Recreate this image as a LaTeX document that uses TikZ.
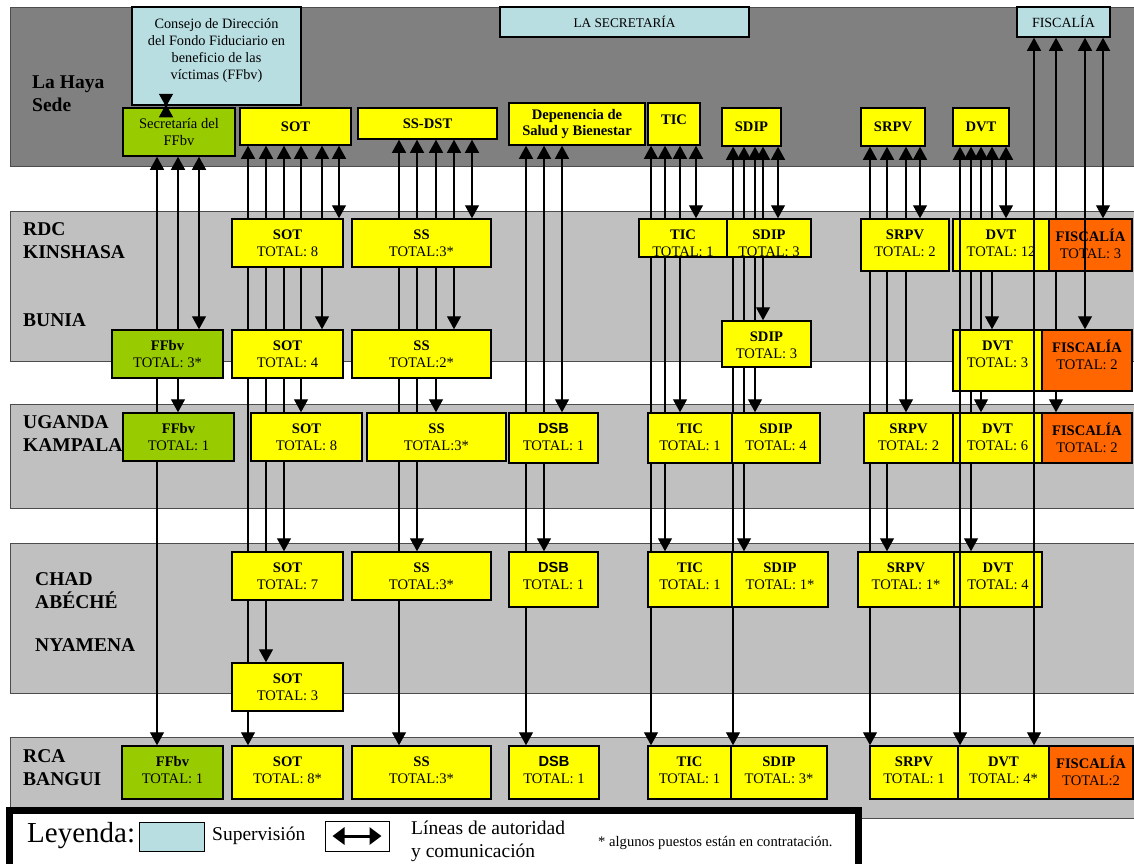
\documentclass[tikz,border=0pt]{standalone}
\usepackage{fontspec}
\setmainfont{Liberation Serif}
\newfontfamily\dsbfont{Liberation Sans}
\usetikzlibrary{positioning, arrows.meta}

\definecolor{hqgray}{HTML}{808080}
\definecolor{fieldgray}{HTML}{C0C0C0}
\definecolor{unityellow}{HTML}{FFFF00}
\definecolor{ffbvgreen}{HTML}{99CC00}
\definecolor{fisorange}{HTML}{FF6600}
\definecolor{supblue}{HTML}{B8DEE2}

\pgfdeclarelayer{bands}
\pgfdeclarelayer{links}
\pgfsetlayers{bands,links,main}

\tikzset{
	band/.style={rectangle, draw=black!70, line width=0.8pt, inner sep=0pt},
	unit/.style={rectangle, draw=black, line width=1.5pt, fill=unityellow, inner sep=0pt},
	hqunit/.style={unit, align=center, font=\bfseries\fontsize{14.6}{16.5}\selectfont},
	supervision/.style={unit, fill=supblue, align=center, font=\fontsize{14}{17}\selectfont},
	unittext/.style={align=center, inner sep=0pt, font=\fontsize{14.6}{17}\selectfont},
	place/.style={anchor=west, align=left, inner sep=0pt, font=\bfseries\fontsize{19.5}{23}\selectfont},
	link/.style={line width=1.3pt, >={Triangle[length=13pt, width=14pt]}, <->},
	keyarrow/.style={line width=3pt, >={Triangle[length=12pt, width=17pt]}, <->},
	legendtext/.style={inner sep=0pt, font=\fontsize{19.5}{23}\selectfont}
}

\begin{document}
\begin{tikzpicture}[x=1pt, y=-1pt]
	\useasboundingbox (0,0) rectangle (1134,863);
	\clip (0,0) rectangle (1134,863);

	\begin{pgfonlayer}{bands}
		\node[band, fill=hqgray, minimum width=1124pt, minimum height=159pt](hagueBand) at (572,86.5){};
		\node[band, fill=fieldgray, minimum width=1124pt, minimum height=150pt](rdcBand) at (572,286){};
		\node[band, fill=fieldgray, minimum width=1124pt, minimum height=104pt](ugandaBand) at (572,456){};
		\node[band, fill=fieldgray, minimum width=1124pt, minimum height=150pt](chadBand) at (572,618){};
		\node[band, fill=fieldgray, minimum width=1124pt, minimum height=81pt](rcaBand) at (572,777.5){};
	\end{pgfonlayer}

	\node[place](hagueLbl) at (32,94){La Haya\\Sede};
	\node[place](rdcLbl) at (23,240.5){RDC\\KINSHASA};
	\node[place](buniaLbl) at (23,320){BUNIA};
	\node[place](ugandaLbl) at (23,434){UGANDA\\KAMPALA};
	\node[place](chadLbl) at (35,591){CHAD\\ABÉCHÉ};
	\node[place](nyamenaLbl) at (35,645){NYAMENA};
	\node[place](rcaLbl) at (23,768){RCA\\BANGUI};

	% La Haya
	\node[supervision, minimum width=169pt, minimum height=98pt](consejo) at (216.5,56){};
	\node[unittext, font=\fontsize{14.3}{17}\selectfont](consejoTxt) at ([yshift=5pt]consejo.center){Consejo de Dirección\\del Fondo Fiduciario en\\beneficio de las\\víctimas (FFbv)};
	\node[supervision, minimum width=249pt, minimum height=30pt, font=\fontsize{13.3}{16}\selectfont](secretaria) at (624.5,22){LA SECRETARÍA};
	\node[supervision, minimum width=93pt, minimum height=30pt](fiscaliaHQ) at (1063.5,22){FISCALÍA};

	\node[hqunit, fill=ffbvgreen, font=\fontsize{14.6}{16.5}\selectfont, minimum width=112pt, minimum height=48pt](secFFbv) at (179,132){Secretaría del\\FFbv};
	\node[hqunit, minimum width=111pt, minimum height=37pt](sotHQ) at (295.5,126.5){SOT};
	\node[hqunit, minimum width=139pt, minimum height=31pt](ssdstHQ) at (427.5,123.5){SS-DST};
	\node[hqunit, minimum width=136pt, minimum height=42pt](dsbHQ) at (577,124){Depenencia de\\Salud y Bienestar};
	\node[hqunit, minimum width=52pt, minimum height=42pt, text depth=8pt](ticHQ) at (674,124){TIC};
	\node[hqunit, minimum width=59pt, minimum height=38pt](sdipHQ) at (751.5,127){SDIP};
	\node[hqunit, minimum width=64pt, minimum height=38pt](srpvHQ) at (893,127){SRPV};
	\node[hqunit, minimum width=56pt, minimum height=38pt](dvtHQ) at (981,127){DVT};

	% RDC Kinshasa
	\node[unit, minimum width=111pt, minimum height=48pt](sotKin) at (287.5,243){};
	\node[unittext, below=11pt of sotKin.north](sotKinTxt){\textbf{SOT}\\TOTAL: 8};
	\node[unit, minimum width=139pt, minimum height=48pt](ssKin) at (421.5,243){};
	\node[unittext, below=11pt of ssKin.north](ssKinTxt){\textbf{SS}\\TOTAL:3*};
	\node[unit, minimum width=88pt, minimum height=38pt](ticKin) at (683,238){};
	\node[unittext, below=11pt of ticKin.north](ticKinTxt){\textbf{TIC}\\TOTAL: 1};
	\node[unit, minimum width=84pt, minimum height=38pt](sdipKin) at (769,238){};
	\node[unittext, below=11pt of sdipKin.north](sdipKinTxt){\textbf{SDIP}\\TOTAL: 3};
	\node[unit, minimum width=88pt, minimum height=52pt](srpvKin) at (905,245){};
	\node[unittext, below=11pt of srpvKin.north](srpvKinTxt){\textbf{SRPV}\\TOTAL: 2};
	\node[unit, minimum width=96pt, minimum height=52pt](dvtKin) at (1001,245){};
	\node[unittext, below=11pt of dvtKin.north](dvtKinTxt){\textbf{DVT}\\TOTAL: 12};
	\node[unit, fill=fisorange, minimum width=83pt, minimum height=52pt](fisKin) at (1090.5,245){};
	\node[unittext, below=11pt of fisKin.north](fisKinTxt){\textbf{FISCALÍA}\\TOTAL: 3};

	% Bunia
	\node[unit, fill=ffbvgreen, minimum width=111pt, minimum height=48pt](ffbvBun) at (167.5,354){};
	\node[unittext, below=11pt of ffbvBun.north](ffbvBunTxt){\textbf{FFbv}\\TOTAL: 3*};
	\node[unit, minimum width=111pt, minimum height=48pt](sotBun) at (287.5,354){};
	\node[unittext, below=11pt of sotBun.north](sotBunTxt){\textbf{SOT}\\TOTAL: 4};
	\node[unit, minimum width=139pt, minimum height=48pt](ssBun) at (421.5,354){};
	\node[unittext, below=11pt of ssBun.north](ssBunTxt){\textbf{SS}\\TOTAL:2*};
	\node[unit, minimum width=89pt, minimum height=46pt](sdipBun) at (766.5,344){};
	\node[unittext, below=11pt of sdipBun.north](sdipBunTxt){\textbf{SDIP}\\TOTAL: 3};
	\node[unit, minimum width=89pt, minimum height=61pt](dvtBun) at (997.5,360.5){};
	\node[unittext, below=11pt of dvtBun.north](dvtBunTxt){\textbf{DVT}\\TOTAL: 3};
	\node[unit, fill=fisorange, minimum width=90pt, minimum height=61pt](fisBun) at (1087,360.5){};
	\node[unittext, below=11pt of fisBun.north](fisBunTxt){\textbf{FISCALÍA}\\TOTAL: 2};

	% Uganda Kampala
	\node[unit, fill=ffbvgreen, minimum width=111pt, minimum height=48pt](ffbvUga) at (178.5,437){};
	\node[unittext, below=11pt of ffbvUga.north](ffbvUgaTxt){\textbf{FFbv}\\TOTAL: 1};
	\node[unit, minimum width=111pt, minimum height=48pt](sotUga) at (306.5,437){};
	\node[unittext, below=11pt of sotUga.north](sotUgaTxt){\textbf{SOT}\\TOTAL: 8};
	\node[unit, minimum width=139pt, minimum height=48pt](ssUga) at (436.5,437){};
	\node[unittext, below=11pt of ssUga.north](ssUgaTxt){\textbf{SS}\\TOTAL:3*};
	\node[unit, minimum width=89pt, minimum height=50pt](dsbUga) at (553.5,438){};
	\node[unittext, below=11pt of dsbUga.north](dsbUgaTxt){{\dsbfont\bfseries DSB}\\TOTAL: 1};
	\node[unit, minimum width=84pt, minimum height=50pt](ticUga) at (690,438){};
	\node[unittext, below=11pt of ticUga.north](ticUgaTxt){\textbf{TIC}\\TOTAL: 1};
	\node[unit, minimum width=88pt, minimum height=50pt](sdipUga) at (776,438){};
	\node[unittext, below=11pt of sdipUga.north](sdipUgaTxt){\textbf{SDIP}\\TOTAL: 4};
	\node[unit, minimum width=89pt, minimum height=50pt](srpvUga) at (908.5,438){};
	\node[unittext, below=11pt of srpvUga.north](srpvUgaTxt){\textbf{SRPV}\\TOTAL: 2};
	\node[unit, minimum width=89pt, minimum height=50pt](dvtUga) at (997.5,438){};
	\node[unittext, below=11pt of dvtUga.north](dvtUgaTxt){\textbf{DVT}\\TOTAL: 6};
	\node[unit, fill=fisorange, minimum width=90pt, minimum height=50pt](fisUga) at (1087,438){};
	\node[unittext, below=11pt of fisUga.north](fisUgaTxt){\textbf{FISCALÍA}\\TOTAL: 2};

	% Chad Abeche / Nyamena
	\node[unit, minimum width=111pt, minimum height=48pt](sotChad) at (287.5,576){};
	\node[unittext, below=11pt of sotChad.north](sotChadTxt){\textbf{SOT}\\TOTAL: 7};
	\node[unit, minimum width=139pt, minimum height=48pt](ssChad) at (421.5,576){};
	\node[unittext, below=11pt of ssChad.north](ssChadTxt){\textbf{SS}\\TOTAL:3*};
	\node[unit, minimum width=89pt, minimum height=55pt](dsbChad) at (553.5,579.5){};
	\node[unittext, below=11pt of dsbChad.north](dsbChadTxt){{\dsbfont\bfseries DSB}\\TOTAL: 1};
	\node[unit, minimum width=84pt, minimum height=55pt](ticChad) at (690,579.5){};
	\node[unittext, below=11pt of ticChad.north](ticChadTxt){\textbf{TIC}\\TOTAL: 1};
	\node[unit, minimum width=96pt, minimum height=55pt](sdipChad) at (780,579.5){};
	\node[unittext, below=11pt of sdipChad.north](sdipChadTxt){\textbf{SDIP}\\TOTAL: 1*};
	\node[unit, minimum width=96pt, minimum height=55pt](srpvChad) at (906,579.5){};
	\node[unittext, below=11pt of srpvChad.north](srpvChadTxt){\textbf{SRPV}\\TOTAL: 1*};
	\node[unit, minimum width=88pt, minimum height=55pt](dvtChad) at (998,579.5){};
	\node[unittext, below=11pt of dvtChad.north](dvtChadTxt){\textbf{DVT}\\TOTAL: 4};
	\node[unit, minimum width=111pt, minimum height=48pt](sotNya) at (287.5,687){};
	\node[unittext, below=11pt of sotNya.north](sotNyaTxt){\textbf{SOT}\\TOTAL: 3};

	% RCA Bangui
	\node[unit, fill=ffbvgreen, minimum width=101pt, minimum height=53pt](ffbvRca) at (172.5,772.5){};
	\node[unittext, below=11pt of ffbvRca.north](ffbvRcaTxt){\textbf{FFbv}\\TOTAL: 1};
	\node[unit, minimum width=111pt, minimum height=53pt](sotRca) at (287.5,772.5){};
	\node[unittext, below=11pt of sotRca.north](sotRcaTxt){\textbf{SOT}\\TOTAL: 8*};
	\node[unit, minimum width=139pt, minimum height=53pt](ssRca) at (421.5,772.5){};
	\node[unittext, below=11pt of ssRca.north](ssRcaTxt){\textbf{SS}\\TOTAL:3*};
	\node[unit, minimum width=90pt, minimum height=53pt](dsbRca) at (554,772.5){};
	\node[unittext, below=11pt of dsbRca.north](dsbRcaTxt){{\dsbfont\bfseries DSB}\\TOTAL: 1};
	\node[unit, minimum width=83pt, minimum height=53pt](ticRca) at (689.5,772.5){};
	\node[unittext, below=11pt of ticRca.north](ticRcaTxt){\textbf{TIC}\\TOTAL: 1};
	\node[unit, minimum width=96pt, minimum height=53pt](sdipRca) at (779,772.5){};
	\node[unittext, below=11pt of sdipRca.north](sdipRcaTxt){\textbf{SDIP}\\TOTAL: 3*};
	\node[unit, minimum width=88pt, minimum height=53pt](srpvRca) at (914,772.5){};
	\node[unittext, below=11pt of srpvRca.north](srpvRcaTxt){\textbf{SRPV}\\TOTAL: 1};
	\node[unit, minimum width=91pt, minimum height=53pt](dvtRca) at (1003.5,772.5){};
	\node[unittext, below=11pt of dvtRca.north](dvtRcaTxt){\textbf{DVT}\\TOTAL: 4*};
	\node[unit, fill=fisorange, minimum width=84pt, minimum height=53pt](fisRca) at (1091,772.5){};
	\node[unittext, below=11pt of fisRca.north](fisRcaTxt){\textbf{FISCALÍA}\\TOTAL:2};

	% lines of authority (behind the boxes)
	\begin{pgfonlayer}{links}
		\foreach \x/\dst in {157/ffbvRca, 178/ffbvUga, 199/ffbvBun}
			\draw[link] (secFFbv.south -| \x,0) -- (\dst.north -| \x,0);
		\foreach \x/\dst in {248/sotRca, 266/sotNya, 284/sotChad, 301/sotUga, 322/sotBun, 339/sotKin}
			\draw[link] (sotHQ.south -| \x,0) -- (\dst.north -| \x,0);
		\foreach \x/\dst in {399/ssRca, 417/ssChad, 436/ssUga, 454/ssBun, 472/ssKin}
			\draw[link] (ssdstHQ.south -| \x,0) -- (\dst.north -| \x,0);
		\foreach \x/\dst in {526/dsbRca, 544/dsbChad, 562/dsbUga}
			\draw[link] (dsbHQ.south -| \x,0) -- (\dst.north -| \x,0);
		\foreach \x/\dst in {651/ticRca, 665/ticChad, 680/ticUga, 696/ticKin}
			\draw[link] (ticHQ.south -| \x,0) -- (\dst.north -| \x,0);
		\foreach \x/\dst in {733/sdipRca, 744/sdipChad, 755/sdipUga, 763/sdipBun, 778/sdipKin}
			\draw[link] (sdipHQ.south -| \x,0) -- (\dst.north -| \x,0);
		\foreach \x/\dst in {870/srpvRca, 887/srpvChad, 906/srpvUga, 920/srpvKin}
			\draw[link] (srpvHQ.south -| \x,0) -- (\dst.north -| \x,0);
		\foreach \x/\dst in {971/dvtChad, 981/dvtUga, 992/dvtBun, 1006/dvtKin}
			\draw[link] (dvtHQ.south -| \x,0) -- (\dst.north -| \x,0);
		\foreach \x/\dst in {1056/fisUga, 1103/fisKin}
			\draw[link] (fiscaliaHQ.south -| \x,0) -- (\dst.north -| \x,0);
	\end{pgfonlayer}

	% lines drawn over the boxes
	\coordinate (bowTop) at ([yshift=12pt]consejo.south -| 166,0);
	\coordinate (bowBot) at ([yshift=-10pt]secFFbv.north -| 166,0);
	\draw[link, >-<] (bowTop) -- (bowBot);
	\draw[link] (dvtHQ.south -| 960,0) -- (dvtRca.north -| 960,0);
	\draw[link] (fiscaliaHQ.south -| 1034,0) -- (fisRca.north -| 1034,0);
	\draw[link] (fiscaliaHQ.south -| 1085,0) -- (fisBun.north -| 1085,0);

	% legend
	\node[rectangle, draw=black, line width=7pt, fill=white, minimum width=849pt, minimum height=70pt](legendBox) at (434,845.5){};
	\node[legendtext, anchor=west, font=\fontsize{29}{34}\selectfont](legendTitle) at (27,836){Leyenda:};
	\node[rectangle, draw=black, line width=1pt, fill=supblue, minimum width=65pt, minimum height=29pt](legendSup) at (171.5,836.5){};
	\node[legendtext, anchor=west](legendSupTxt) at (212,836){Supervisión};
	\node[rectangle, draw=black, line width=1pt, fill=white, minimum width=64pt, minimum height=30pt](legendKey) at (357,836){};
	\coordinate (keyL) at ([xshift=8pt]legendKey.west);
	\coordinate (keyR) at ([xshift=-8pt]legendKey.east);
	\draw[keyarrow] (keyL) -- (keyR);
	\node[legendtext, anchor=north west, align=left](legendKeyTxt) at (411,821){Líneas de autoridad\\y comunicación};
	\node[legendtext, anchor=west, font=\fontsize{14.6}{17}\selectfont](legendNote) at (598,843){* algunos puestos están en contratación.};
\end{tikzpicture}
\end{document}
